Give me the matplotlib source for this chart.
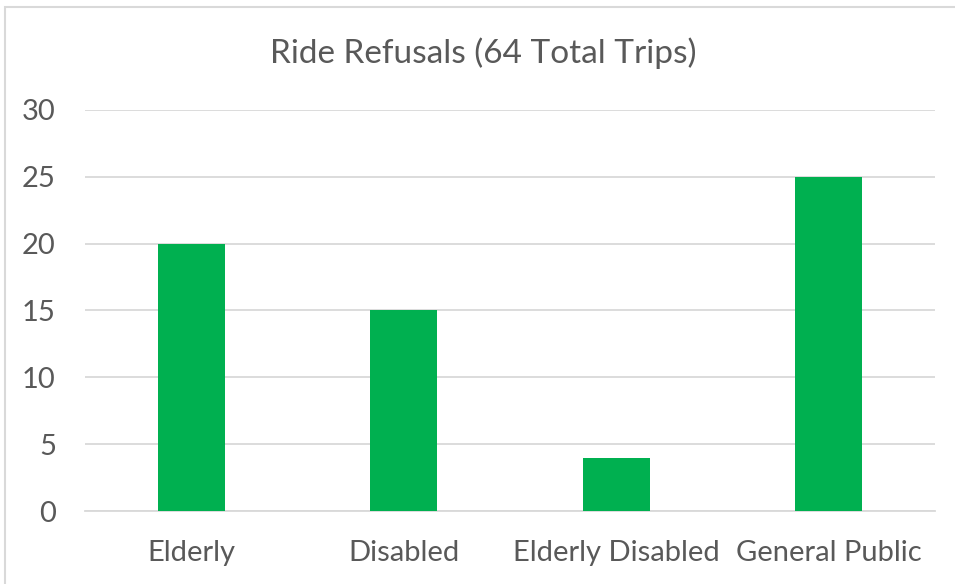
import matplotlib.pyplot as plt
from matplotlib.patches import Rectangle

categories = ['Elderly', 'Disabled', 'Elderly Disabled', 'General Public']
refusals = [20, 15, 4, 25]
y_ticks = [0, 5, 10, 15, 20, 25, 30]

text_color = '#595959'
grid_color = '#D9D9D9'
bar_color = '#00B050'

plt.rcParams['font.family'] = ['Lato', 'DejaVu Sans']

fig = plt.figure(figsize=(9.55, 5.84), dpi=100)
ax = fig.add_axes([0.089, 0.125, 0.890, 0.687])

x = range(len(categories))
ax.bar(x, refusals, width=0.315, color=bar_color, zorder=3)

ax.set_xlim(-0.5, len(categories) - 0.5)
ax.set_ylim(0, 30)
ax.set_yticks(y_ticks)
ax.set_xticks(list(x))
ax.set_xticklabels(categories)
ax.grid(axis='y', color=grid_color, linewidth=1.3, zorder=0)
ax.tick_params(axis='both', length=0, labelsize=21, labelcolor=text_color)
ax.tick_params(axis='y', pad=21)
ax.tick_params(axis='x', pad=21)
for side in ['top', 'right', 'left']:
    ax.spines[side].set_visible(False)
ax.spines['bottom'].set_color(grid_color)
ax.spines['bottom'].set_linewidth(1.3)

fig.text(0.506, 0.909, 'Ride Refusals (64 Total Trips)', ha='center', va='center',
         fontsize=24, color=text_color)

# light border around the chart area
fig.patches.append(Rectangle((5 / 955, -0.01), 1.0, 1 - 7 / 584 + 0.01,
                             transform=fig.transFigure, fill=False,
                             edgecolor='#D9D9D9', linewidth=1.5))

fig.savefig('out.png', dpi=100)
